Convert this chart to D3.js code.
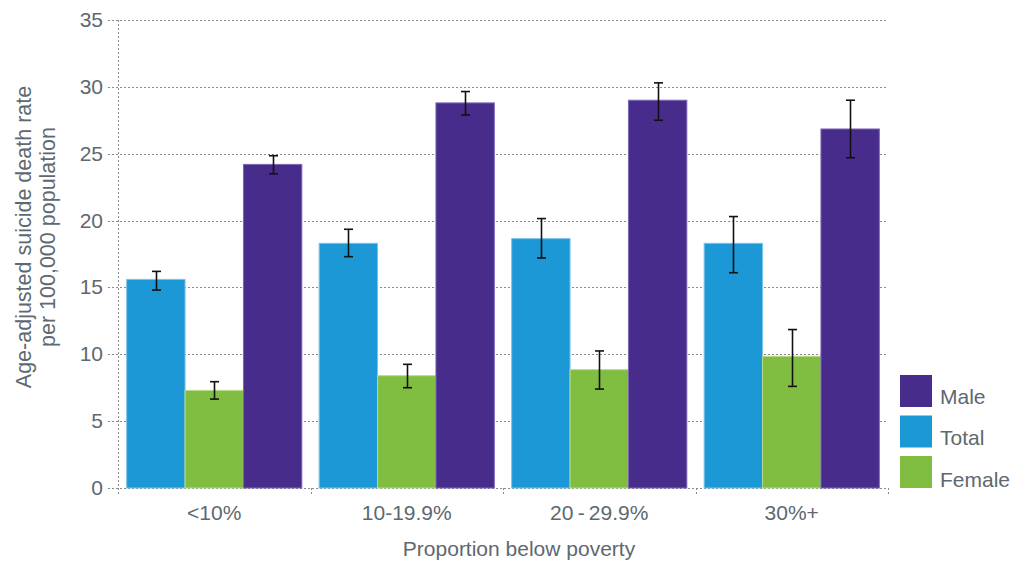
<!DOCTYPE html>
<html>
<head>
<meta charset="utf-8">
<script src="https://cdn.jsdelivr.net/npm/d3@7/dist/d3.min.js"></script>
<style>
  html, body { margin: 0; padding: 0; background: #fff; }
  svg { display: block; font-family: "Liberation Sans", Arial, Helvetica, sans-serif; }
</style>
</head>
<body>
<svg id="chart" width="1029" height="562"></svg>
<script>
// Poverty bands on the x axis
const categories = ["<10%", "10-19.9%", "20\u2009-\u200929.9%", "30%+"];
// Series in the order drawn inside each group
const seriesNames = ["Total", "Female", "Male"];
// Legend order
const legendNames = ["Male", "Total", "Female"];
// Age-adjusted rates per 100,000
const totalValues  = [15.6, 18.3, 18.65, 18.3];
const femaleValues = [7.3, 8.4, 8.85, 9.85];
const maleValues   = [24.2, 28.8, 29.0, 26.85];
// Confidence interval bounds
const totalLow   = [14.8, 17.3, 17.2, 16.1];
const totalHigh  = [16.2, 19.35, 20.15, 20.3];
const femaleLow  = [6.65, 7.5, 7.4, 7.6];
const femaleHigh = [7.95, 9.25, 10.25, 11.85];
const maleLow    = [23.5, 27.9, 27.5, 24.7];
const maleHigh   = [24.85, 29.65, 30.3, 29.0];
// Y axis ticks
const yTicks = [0, 5, 10, 15, 20, 25, 30, 35];

const colors = { Male: "#482c8b", Total: "#1c98d6", Female: "#80bd41" };
const strokes = { Male: "#7a68b5", Total: "#7cc3ea", Female: "#b5dc8c" };

const rows = [];
categories.forEach((c, i) => {
  rows.push({ cat: c, series: "Total",  value: totalValues[i],  lo: totalLow[i],  hi: totalHigh[i] });
  rows.push({ cat: c, series: "Female", value: femaleValues[i], lo: femaleLow[i], hi: femaleHigh[i] });
  rows.push({ cat: c, series: "Male",   value: maleValues[i],   lo: maleLow[i],   hi: maleHigh[i] });
});

const svg = d3.select("#chart");
const plotLeft = 118, plotRight = 888, plotTop = 20, plotBottom = 488;
const textColor = "#5d6870";
const gridColor = "#8a8a8a";
const fontSize = 21;

const y = d3.scaleLinear().domain([0, 35]).range([plotBottom, plotTop]);
const x0 = d3.scaleBand().domain(categories).range([plotLeft, plotRight]).paddingInner(0.09).paddingOuter(0.045);
const x1 = d3.scaleBand().domain(seriesNames).range([0, x0.bandwidth()]).padding(0);

// Horizontal gridlines
svg.append("g")
  .selectAll("line")
  .data(yTicks)
  .join("line")
  .attr("x1", plotLeft - 10).attr("x2", plotRight)
  .attr("y1", d => Math.round(y(d)) + 0.5).attr("y2", d => Math.round(y(d)) + 0.5)
  .attr("stroke", gridColor).attr("stroke-width", 1)
  .attr("stroke-dasharray", "2,2");

// Vertical axis line
svg.append("line")
  .attr("x1", plotLeft + 0.5).attr("x2", plotLeft + 0.5)
  .attr("y1", plotTop).attr("y2", plotBottom + 6)
  .attr("stroke", gridColor).attr("stroke-dasharray", "2,2");

// Group boundary ticks on the x axis
svg.append("g")
  .selectAll("line")
  .data(categories.map((c, i) => plotLeft + x0.step() * (i + 1)))
  .join("line")
  .attr("x1", d => Math.round(d) + 0.5).attr("x2", d => Math.round(d) + 0.5)
  .attr("y1", plotBottom).attr("y2", plotBottom + 6)
  .attr("stroke", gridColor).attr("stroke-dasharray", "2,2");

// Y tick labels
svg.append("g")
  .selectAll("text")
  .data(yTicks)
  .join("text")
  .attr("x", plotLeft - 15).attr("y", d => y(d) + 7)
  .attr("text-anchor", "end")
  .attr("font-size", fontSize).attr("fill", textColor)
  .text(d => d);

// Bars
svg.append("g")
  .selectAll("rect")
  .data(rows)
  .join("rect")
  .attr("x", d => x0(d.cat) + x1(d.series))
  .attr("y", d => y(d.value))
  .attr("width", x1.bandwidth())
  .attr("height", d => y(0) - y(d.value))
  .attr("fill", d => colors[d.series])
  .attr("stroke", d => strokes[d.series])
  .attr("stroke-width", 1);

// Error bars
const err = svg.append("g").attr("stroke", "#111").attr("stroke-width", 1.6);
rows.forEach(d => {
  const cx = Math.round(x0(d.cat) + x1(d.series) + x1.bandwidth() / 2) + 0.5;
  err.append("line").attr("x1", cx).attr("x2", cx).attr("y1", y(d.hi)).attr("y2", y(d.lo));
  err.append("line").attr("x1", cx - 4.5).attr("x2", cx + 4.5).attr("y1", y(d.hi)).attr("y2", y(d.hi));
  err.append("line").attr("x1", cx - 4.5).attr("x2", cx + 4.5).attr("y1", y(d.lo)).attr("y2", y(d.lo));
});

// X tick labels
svg.append("g")
  .selectAll("text")
  .data(categories)
  .join("text")
  .attr("x", d => x0(d) + x0.bandwidth() / 2)
  .attr("y", 520)
  .attr("text-anchor", "middle")
  .attr("font-size", fontSize).attr("fill", textColor)
  .text(d => d);

// X axis title
svg.append("text")
  .attr("x", 519).attr("y", 556)
  .attr("text-anchor", "middle")
  .attr("font-size", fontSize).attr("fill", textColor)
  .text("Proportion below poverty");

// Y axis title (two lines)
const yt = svg.append("text")
  .attr("transform", "translate(0,237) rotate(-90)")
  .attr("text-anchor", "middle")
  .attr("font-size", 21.5).attr("fill", textColor);
yt.append("tspan").attr("x", 0).attr("y", 31).text("Age-adjusted suicide death rate");
yt.append("tspan").attr("x", 0).attr("y", 55).text("per 100,000 population");

// Legend
const legend = svg.append("g");
legendNames.forEach((name, i) => {
  const ly = 375 + i * 40.5;
  legend.append("rect")
    .attr("x", 900).attr("y", ly).attr("width", 32).attr("height", 32)
    .attr("fill", colors[name]);
  legend.append("text")
    .attr("x", 940).attr("y", ly + 29 + (i === 2 ? 2 : 0))
    .attr("font-size", fontSize).attr("fill", textColor)
    .text(name);
});
</script>
</body>
</html>
